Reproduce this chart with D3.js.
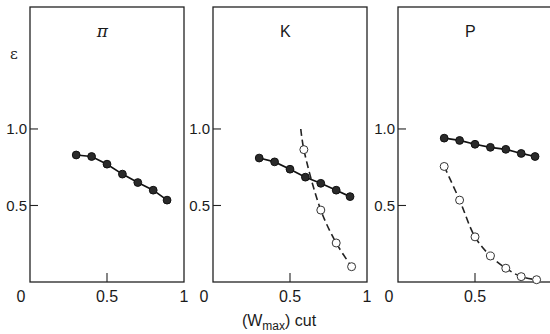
<!DOCTYPE html>
<html lang="en">
<head>
<meta charset="UTF-8">
<title>efficiency vs (Wmax) cut</title>
<style>
  body {
    margin: 0;
    background: #fff;
  }
  svg text {
    font-family: "Liberation Sans", Arial, sans-serif;
    fill: #1a1a1a;
  }
</style>
</head>
<body>
<div id="chart"></div>
<script src="https://d3js.org/d3.v7.min.js"></script>
<script>
  // values
  var panelNames = ["\u03c0", "K", "P"];
  var xTicks = [0, 0.5, 1];
  var yTicks = [0.5, 1.0];
  var cutValues = [0.3, 0.4, 0.5, 0.6, 0.7, 0.8, 0.89];

  var piFilled = [0.83, 0.82, 0.77, 0.705, 0.65, 0.60, 0.535];

  var kFilled = [0.81, 0.785, 0.737, 0.685, 0.645, 0.60, 0.558];
  var kOpenX = [0.59, 0.70, 0.80, 0.90];
  var kOpen = [0.865, 0.47, 0.255, 0.10];
  // dashed fit for K starts a little above the first open point
  var kFitX = [0.57, 0.59, 0.70, 0.80, 0.90];
  var kFit = [1.0, 0.865, 0.47, 0.255, 0.10];

  var pFilled = [0.94, 0.925, 0.90, 0.88, 0.867, 0.84, 0.82];
  var pOpenX = [0.3, 0.4, 0.5, 0.6, 0.7, 0.8, 0.9];
  var pOpen = [0.755, 0.535, 0.295, 0.17, 0.09, 0.035, 0.015];

  var panels = [
    { name: panelNames[0], filled: piFilled, openX: null, open: null, fitX: null, fit: null },
    { name: panelNames[1], filled: kFilled, openX: kOpenX, open: kOpen, fitX: kFitX, fit: kFit },
    { name: panelNames[2], filled: pFilled, openX: pOpenX, open: pOpen, fitX: pOpenX, fit: pOpen }
  ];

  var width = 550, height = 334;
  var lefts = [30, 213, 398];
  var panelW = 154;
  var frameTop = 7, frameBottom = 282;

  var svg = d3.select("#chart").append("svg")
      .attr("width", width)
      .attr("height", height);

  var y = d3.scaleLinear()
      .domain([0, 1.797])
      .range([frameBottom, frameTop]);

  panels.forEach(function(p, i) {
    var x = d3.scaleLinear()
        .domain([0, 1])
        .range([lefts[i], lefts[i] + panelW]);

    var g = svg.append("g");

    // frame
    g.append("rect")
        .attr("x", x(0))
        .attr("y", frameTop)
        .attr("width", x(1) - x(0))
        .attr("height", frameBottom - frameTop)
        .attr("fill", "none")
        .attr("stroke", "#222")
        .attr("stroke-width", 1.3);

    // y ticks, drawn inward
    g.selectAll(".ytick")
        .data(yTicks)
      .enter().append("line")
        .attr("x1", x(0))
        .attr("x2", x(0) + 8)
        .attr("y1", function(d) { return y(d); })
        .attr("y2", function(d) { return y(d); })
        .attr("stroke", "#222")
        .attr("stroke-width", 1.1);

    g.selectAll(".ylab")
        .data(yTicks)
      .enter().append("text")
        .attr("x", x(0) - 3)
        .attr("y", function(d) { return y(d); })
        .attr("dy", "0.36em")
        .attr("text-anchor", "end")
        .style("font-size", "15px")
        .text(function(d) { return d3.format(".1f")(d); });

    // x tick at 0.5 on the bottom edge
    g.append("line")
        .attr("x1", x(0.5))
        .attr("x2", x(0.5))
        .attr("y1", frameBottom)
        .attr("y2", frameBottom - 9)
        .attr("stroke", "#222")
        .attr("stroke-width", 1.1);

    // the last panel runs off the page, so its "1" is not shown
    g.selectAll(".xlab")
        .data(xTicks.filter(function(d) { return x(d) < width - 4; }))
      .enter().append("text")
        .attr("x", function(d) { return d === 0 ? x(d) - 9 : x(d); })
        .attr("y", 302)
        .attr("text-anchor", "middle")
        .style("font-size", "16px")
        .text(function(d) { return d === 0 ? "0" : d === 1 ? "1" : "0.5"; });

    // panel name
    g.append("text")
        .attr("x", x(0.47))
        .attr("y", 37)
        .attr("text-anchor", "middle")
        .style("font-size", i === 0 ? "17px" : "16px")
        .style("font-style", i === 0 ? "italic" : null)
        .style("font-family", i === 0 ? "'DejaVu Serif', serif" : null)
        .text(p.name);

    var line = d3.line()
        .x(function(d) { return x(d[0]); })
        .y(function(d) { return y(d[1]); });

    // dashed fit through the open points
    if (p.fit) {
      g.append("path")
          .datum(d3.zip(p.fitX, p.fit))
          .attr("d", line.curve(d3.curveCatmullRom.alpha(0.5)))
          .attr("fill", "none")
          .attr("stroke", "#222")
          .attr("stroke-width", 1.6)
          .attr("stroke-dasharray", "7,4");

      g.selectAll(".open")
          .data(d3.zip(p.openX, p.open))
        .enter().append("circle")
          .attr("cx", function(d) { return x(d[0]); })
          .attr("cy", function(d) { return y(d[1]); })
          .attr("r", 4)
          .attr("fill", "#fff")
          .attr("stroke", "#333")
          .attr("stroke-width", 1);
    }

    // solid line through the filled points
    var filled = d3.zip(cutValues, p.filled);
    g.append("path")
        .datum(filled)
        .attr("d", line.curve(d3.curveLinear))
        .attr("fill", "none")
        .attr("stroke", "#111")
        .attr("stroke-width", 1.7);

    g.selectAll(".filled")
        .data(filled)
      .enter().append("circle")
        .attr("cx", function(d) { return x(d[0]); })
        .attr("cy", function(d) { return y(d[1]); })
        .attr("r", 3.9)
        .attr("fill", "#2a2a2a")
        .attr("stroke", "#111")
        .attr("stroke-width", 1);
  });

  // epsilon on the first panel's axis
  svg.append("text")
      .attr("x", 14)
      .attr("y", 59)
      .attr("text-anchor", "middle")
      .style("font-size", "15px")
      .style("font-family", "'DejaVu Serif', serif")
      .text("\u03b5");

  // axis title: (W_max) cut
  var title = svg.append("text")
      .attr("x", 279)
      .attr("y", 326)
      .attr("text-anchor", "middle")
      .style("font-size", "16px");
  title.append("tspan").text("(W");
  title.append("tspan")
      .attr("dy", 4)
      .style("font-size", "12px")
      .text("max");
  title.append("tspan")
      .attr("dy", -4)
      .text(") cut");
</script>
</body>
</html>
